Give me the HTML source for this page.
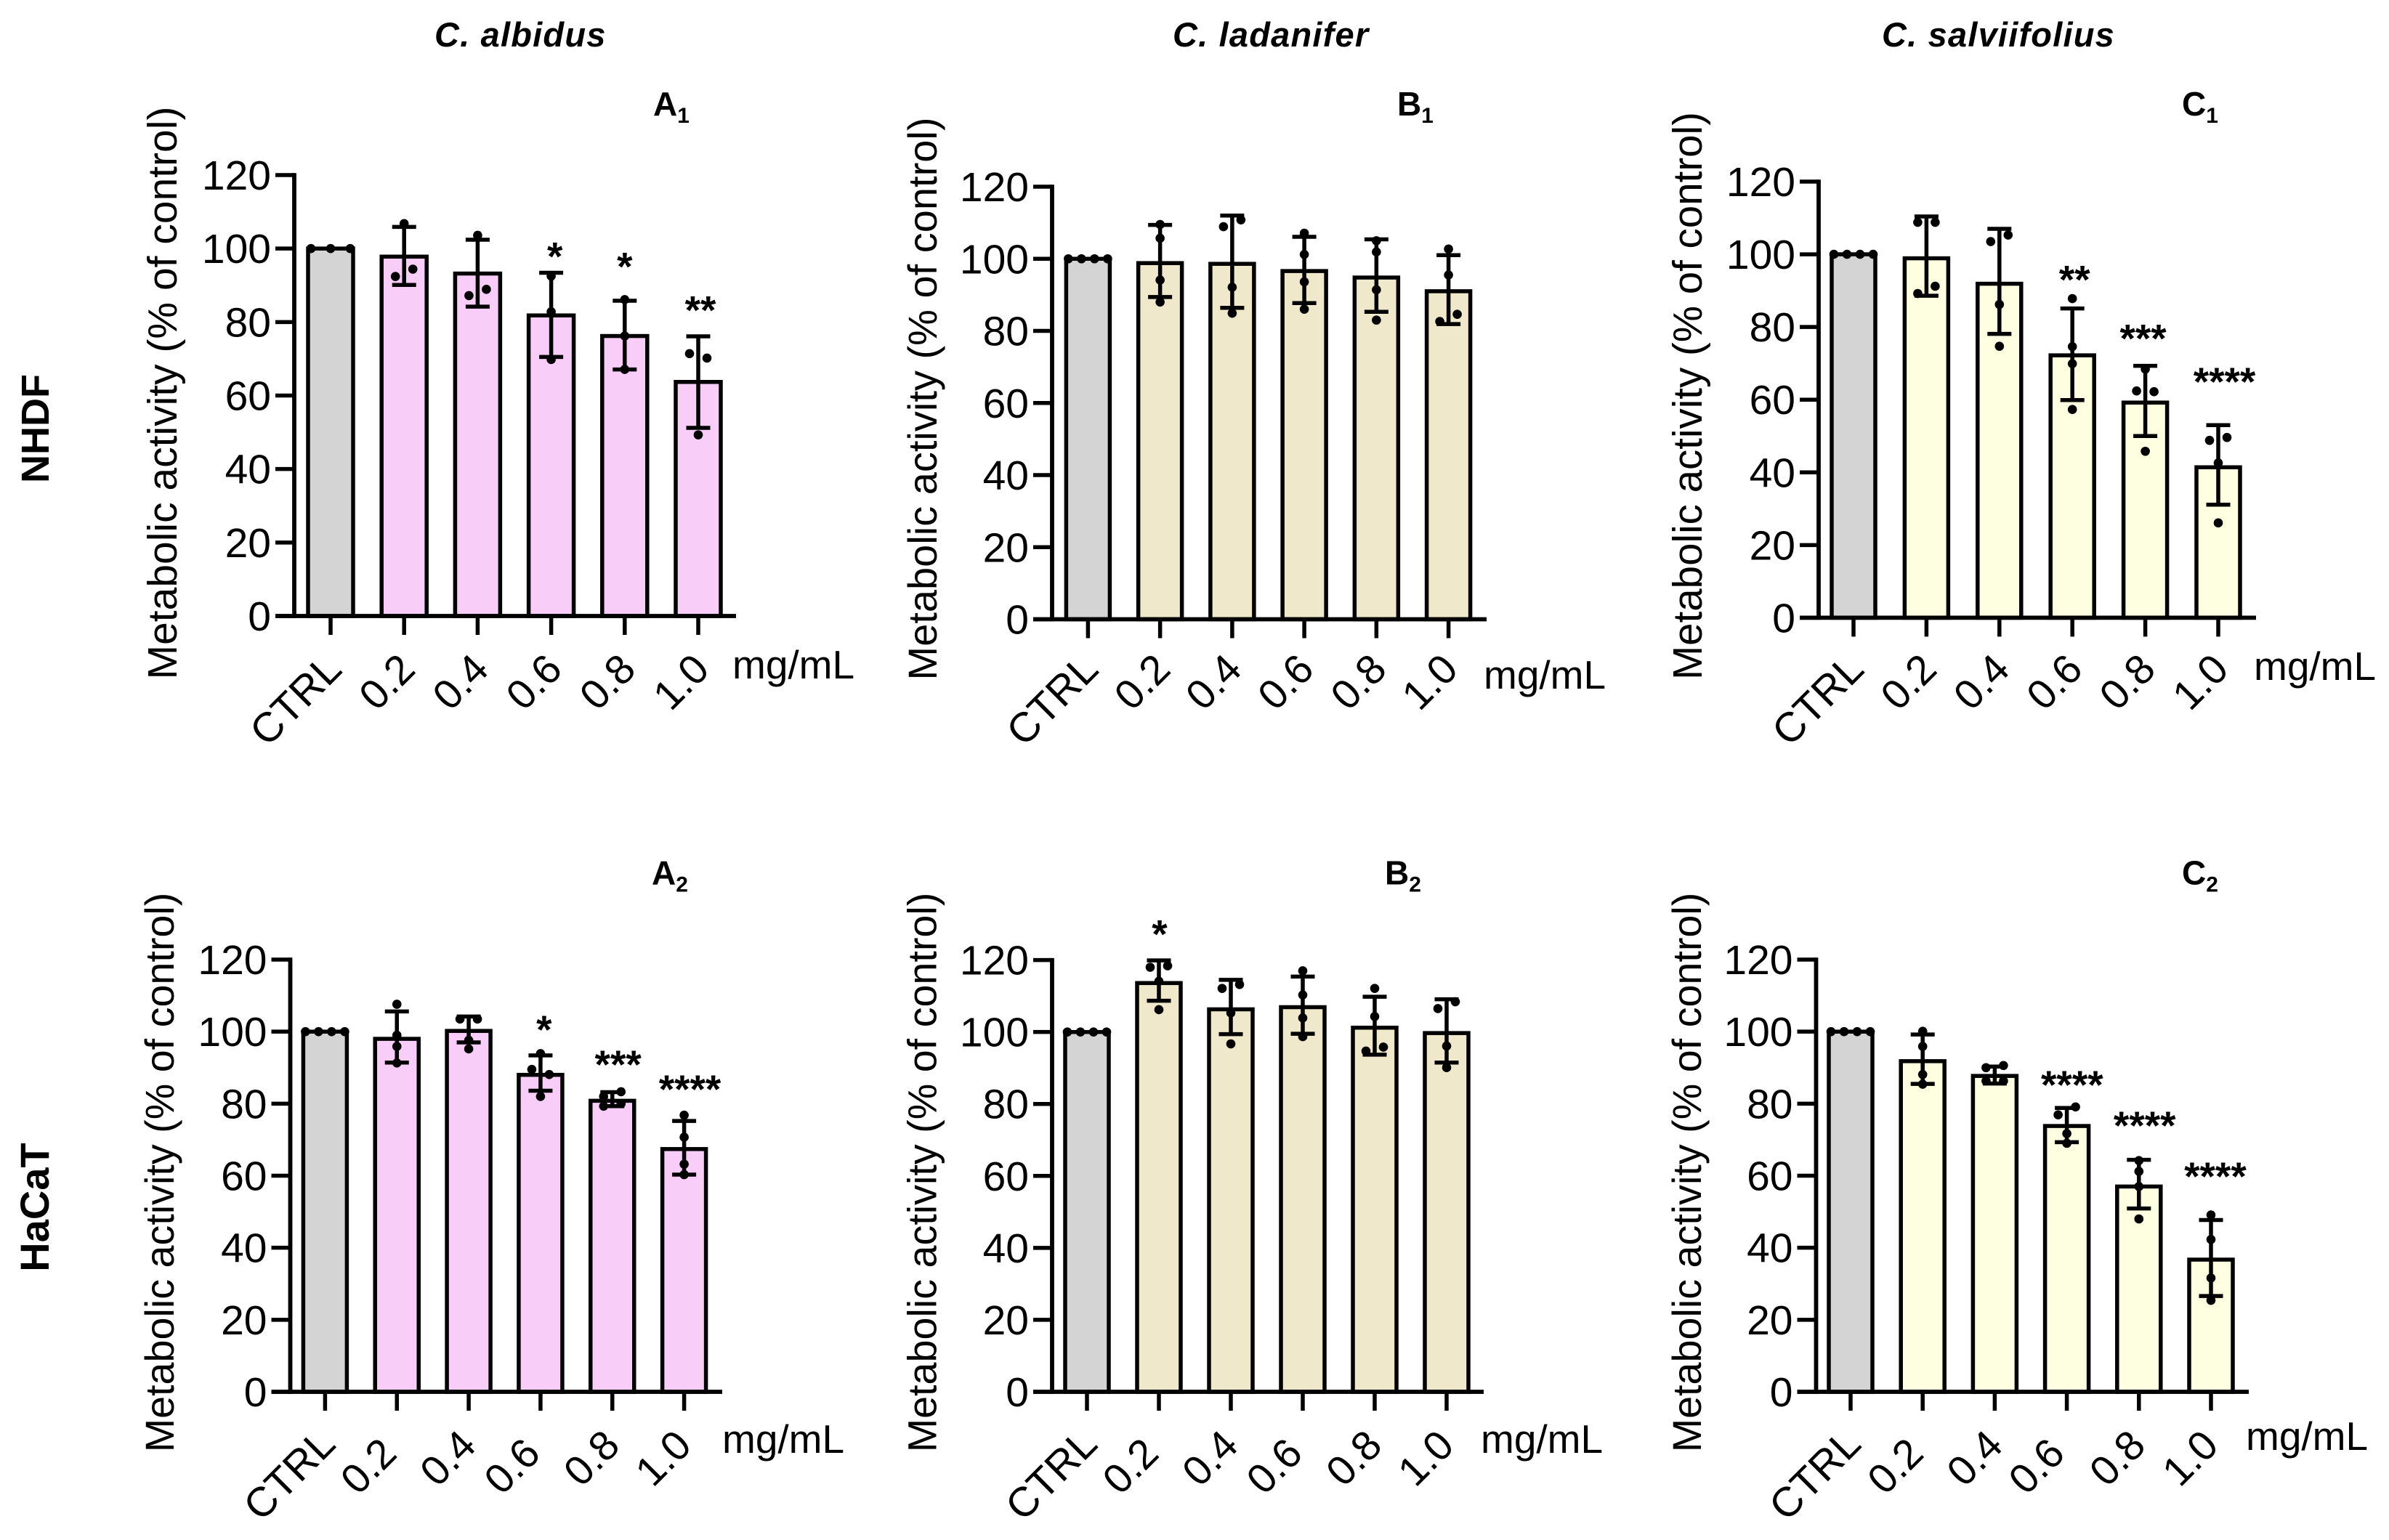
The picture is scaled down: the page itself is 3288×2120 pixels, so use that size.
<!DOCTYPE html>
<html lang="en">
<head>
<meta charset="utf-8">
<title>Metabolic activity of Cistus extracts</title>
<style>
html,body{margin:0;padding:0;background:#fff;}
#figure{display:block;width:3288px;height:2120px;background:#fff;}
text{font-family:"Liberation Sans",Arial,sans-serif;fill:#000;}
</style>
</head>
<body>
<svg id="figure" xmlns="http://www.w3.org/2000/svg" width="3288" height="2120" viewBox="0 0 3288 2120">
  <text x="598" y="64" font-size="47" font-weight="bold" font-style="italic" letter-spacing="1.2">C. albidus</text>
  <text x="1614" y="64" font-size="47" font-weight="bold" font-style="italic" letter-spacing="1.2">C. ladanifer</text>
  <text x="2590" y="64" font-size="47" font-weight="bold" font-style="italic" letter-spacing="1.2">C. salviifolius</text>
  <text transform="translate(67 590) rotate(-90)" text-anchor="middle" font-size="54" font-weight="bold">NHDF</text>
  <text transform="translate(67 1662) rotate(-90)" text-anchor="middle" font-size="56" font-weight="bold">HaCaT</text>
</svg>
<script>
// Shared axis data
const categories = ['CTRL', '0.2', '0.4', '0.6', '0.8', '1.0'];
const yTickValues = [0, 20, 40, 60, 80, 100, 120];
const yAxisMax = 120;
const unitLabel = 'mg/mL';
const yAxisTitle = 'Metabolic activity (% of control)';

// Panel A1
const a1Means = [100, 97.8, 93.2, 81.8, 76.2, 63.7];
const a1Upper = [100, 105.9, 102.4, 93.4, 85.8, 76.1];
const a1Lower = [100, 90.1, 84.2, 70.5, 67.1, 51.2];
const a1Points = [[100, 100, 100], [106.8, 92.4, 94.4], [103.6, 87.2, 88.9], [92.5, 82.8, 69.8], [86.1, 76.2, 67.1], [71.4, 70.2, 49.3]];
const a1Sig = ['', '', '', '*', '*', '**'];
const a1SigLevel = [0, 0, 0, 99.1, 96.4, 84.5];
const a1SigShift = [0, 0, 0, 0.05, 0, 0.03];

// Panel B1
const b1Means = [100, 98.8, 98.6, 96.6, 94.8, 91];
const b1Upper = [100, 109.4, 112, 106.1, 105.4, 101];
const b1Lower = [100, 89.4, 86.4, 87.7, 85.3, 81.9];
const b1Points = [[100, 100, 100, 100], [109.5, 105.7, 94.1, 88], [108.9, 110.8, 92.1, 84.9], [107.1, 101.2, 93.6, 86], [105, 101.9, 91.4, 83], [102.7, 95.5, 82.6, 84.6]];
const b1Sig = ['', '', '', '', '', ''];
const b1SigLevel = [0, 0, 0, 0, 0, 0];
const b1SigShift = [0, 0, 0, 0, 0, 0];

// Panel C1
const c1Means = [100, 98.9, 91.9, 72.2, 59.2, 41.4];
const c1Upper = [100, 110.4, 107, 85.1, 69.3, 53];
const c1Lower = [100, 88.6, 78.1, 59.9, 50, 31.1];
const c1Points = [[100, 100, 100, 100], [108.8, 108.8, 89.2, 91.2], [103.5, 105.3, 86.2, 74.7], [87.8, 74.6, 69.9, 57.3], [68.4, 62.4, 62.2, 45.8], [48.8, 49.6, 42.6, 26.1]];
const c1Sig = ['', '', '', '**', '***', '****'];
const c1SigLevel = [0, 0, 0, 94.3, 78.1, 66.2];
const c1SigShift = [0, 0, 0, 0.03, -0.03, 0.085];

// Panel A2
const a2Means = [100, 98, 100.2, 88, 80.8, 67.4];
const a2Upper = [100, 105.6, 104.2, 93.4, 83.2, 75.2];
const a2Lower = [100, 91.4, 97, 83.6, 79.3, 60.3];
const a2Points = [[100, 100, 100, 100], [107.6, 99, 95.9, 91.3], [103.5, 103.5, 97.6, 95.2], [93.9, 89.5, 88.1, 82], [79.3, 80, 82, 83.3], [76.8, 70.7, 63.2, 60.3]];
const a2Sig = ['', '', '', '*', '***', '****'];
const a2SigLevel = [0, 0, 0, 101.8, 92.2, 85.3];
const a2SigShift = [0, 0, 0, 0.05, 0.08, 0.08];

// Panel B2
const b2Means = [100, 113.6, 106.3, 106.9, 101.2, 99.7];
const b2Upper = [100, 119.9, 114.5, 115.4, 109.8, 109.1];
const b2Lower = [100, 108.7, 99.4, 99.5, 93.7, 91.5];
const b2Points = [[100, 100, 100, 100], [118, 118.4, 114.1, 106.2], [112.1, 113.2, 105.3, 96.7], [117, 110.3, 103.9, 98.7], [112.1, 104.3, 94.7, 95.8], [106.5, 108.4, 96.1, 90.1]];
const b2Sig = ['', '*', '', '', '', ''];
const b2SigLevel = [0, 128.5, 0, 0, 0, 0];
const b2SigShift = [0, 0.01, 0, 0, 0, 0];

// Panel C2
const c2Means = [100, 91.8, 87.7, 73.8, 57, 36.7];
const c2Upper = [100, 99.2, 90.3, 78.8, 64.4, 47.7];
const c2Lower = [100, 85.5, 85.6, 69.3, 50.9, 26.6];
const c2Points = [[100, 100, 100, 100], [100.1, 95.9, 88.1, 85.4], [86.3, 86.3, 90, 90.6], [76.9, 79.1, 71.7, 69], [64.2, 61.2, 57, 48], [49.1, 42.3, 31.6, 25.4]];
const c2Sig = ['', '', '', '****', '****', '****'];
const c2SigLevel = [0, 0, 0, 86.5, 75.2, 61.1];
const c2SigShift = [0, 0, 0, 0.073, 0.08, 0.06];

// Panel layout (separate from the data above)
const panels = [
  {id:'a1', sub:'1', head:'A', fill:'#f8cdf8', means:a1Means, upper:a1Upper, lower:a1Lower, points:a1Points, sig:a1Sig, sigLevel:a1SigLevel, sigShift:a1SigShift,
   axisX:405, yZero:848, yTop:241, cat0:455, catN:961, right:1013, barW:62, titleX:243, titleY:541, titleSize:57, unitX:1008, unitY:934, headX:899, headY:159,
   labDx:[18,18,18,18,18,18], labDy:[76.5,76.5,76.5,76.5,76.5,76.5]},
  {id:'b1', sub:'1', head:'B', fill:'#efe8ca', means:b1Means, upper:b1Upper, lower:b1Lower, points:b1Points, sig:b1Sig, sigLevel:b1SigLevel, sigShift:b1SigShift,
   axisX:1448, yZero:852.5, yTop:257, cat0:1497.4, catN:1993.6, right:2046, barW:60, titleX:1289, titleY:549, titleSize:56, unitX:2042, unitY:948, headX:1923, headY:159,
   labDx:[17,17,16,16,17,16], labDy:[72,72,72,72,72,72]},
  {id:'c1', sub:'1', head:'C', fill:'#fefee0', means:c1Means, upper:c1Upper, lower:c1Lower, points:c1Points, sig:c1Sig, sigLevel:c1SigLevel, sigShift:c1SigShift,
   axisX:2503, yZero:850.4, yTop:250, cat0:2551, catN:3053, right:3105, barW:60, titleX:2342, titleY:545, titleSize:56.5, unitX:3102, unitY:936, headX:3003, headY:159,
   labDx:[17,17,17,17,17,17], labDy:[74,74,74,74,74,74]},
  {id:'a2', sub:'2', head:'A', fill:'#f8cdf8', means:a2Means, upper:a2Upper, lower:a2Lower, points:a2Points, sig:a2Sig, sigLevel:a2SigLevel, sigShift:a2SigShift,
   axisX:399.5, yZero:1916, yTop:1321, cat0:447.4, catN:941.6, right:994, barW:60, titleX:239, titleY:1614, titleSize:55.7, unitX:994, unitY:2000, headX:897, headY:1217.5,
   labDx:[17,2.5,13,2.5,13,13], labDy:[75,88,77,88,77,77]},
  {id:'b2', sub:'2', head:'B', fill:'#efe8ca', means:b2Means, upper:b2Upper, lower:b2Lower, points:b2Points, sig:b2Sig, sigLevel:b2SigLevel, sigShift:b2SigShift,
   axisX:1448, yZero:1916, yTop:1321.6, cat0:1496, catN:1991, right:2042, barW:60, titleX:1288.5, titleY:1614, titleSize:55.7, unitX:2038, unitY:2000, headX:1906, headY:1217.5,
   labDx:[17,2.5,13,2.5,13,13], labDy:[75,88,77,88,77,77]},
  {id:'c2', sub:'2', head:'C', fill:'#fefee0', means:c2Means, upper:c2Upper, lower:c2Lower, points:c2Points, sig:c2Sig, sigLevel:c2SigLevel, sigShift:c2SigShift,
   axisX:2499.5, yZero:1916, yTop:1321, cat0:2547, catN:3043, right:3095, barW:60, titleX:2341, titleY:1614, titleSize:55.7, unitX:3091, unitY:1996, headX:3003, headY:1217.5,
   labDx:[17,4,14,0,12,13], labDy:[75,88,77,88,77,77]}
];

const NS = 'http://www.w3.org/2000/svg';
const root = document.getElementById('figure');
const INK = '#000';
const SW = 5.5;

function mk(tag, parent, attrs, txt) {
  const el = document.createElementNS(NS, tag);
  for (const k in attrs) el.setAttribute(k, attrs[k]);
  if (txt !== undefined) el.textContent = txt;
  parent.appendChild(el);
  return el;
}

// Spread dots that sit at nearly the same height side by side, Prism-style.
function swarm(values) {
  const groups = [];
  values.forEach(function (v) {
    const g = groups[groups.length - 1];
    if (g && Math.abs(v - g[0]) <= 2.3) g.push(v);
    else groups.push([v]);
  });
  const out = [];
  groups.forEach(function (g) {
    const gap = g.length === 2 ? 24 : g.length === 3 ? 27 : 18;
    g.forEach(function (v, i) {
      out.push({ v: v, dx: (i - (g.length - 1) / 2) * gap });
    });
  });
  return out;
}

panels.forEach(function (p) {
  const sx = function (i) { return p.cat0 + i * (p.catN - p.cat0) / (categories.length - 1); };
  const sy = function (v) { return p.yZero - v * (p.yZero - p.yTop) / yAxisMax; };
  const step = (p.catN - p.cat0) / (categories.length - 1);

  const g = mk('g', root, {});
  
  

  // bars
  categories.forEach(function (c, i) {
    const top = sy(p.means[i]);
    const bar = mk('rect', g, {
      x: sx(i) - p.barW / 2, y: top, width: p.barW, height: sy(0) - top,
      fill: i === 0 ? '#d4d4d4' : p.fill, stroke: INK, 'stroke-width': SW
    });
    
    
  });

  // error bars
  categories.forEach(function (c, i) {
    if (i === 0) return;
    const eg = mk('g', g, { stroke: INK, 'stroke-width': SW, fill: 'none' });
    
    
    mk('line', eg, { x1: sx(i), x2: sx(i), y1: sy(p.upper[i]), y2: sy(p.lower[i]) });
    mk('line', eg, { x1: sx(i) - 16.5, x2: sx(i) + 16.5, y1: sy(p.upper[i]), y2: sy(p.upper[i]) });
    mk('line', eg, { x1: sx(i) - 16.5, x2: sx(i) + 16.5, y1: sy(p.lower[i]), y2: sy(p.lower[i]) });
  });

  // replicate points
  categories.forEach(function (c, i) {
    swarm(p.points[i]).forEach(function (pt) {
      const dot = mk('circle', g, { cx: sx(i) + pt.dx, cy: sy(pt.v), r: 6.3, fill: INK });
      
      
    });
  });

  // y axis
  const yAxis = mk('g', g, { stroke: INK, 'stroke-width': SW, fill: 'none' });
  
  
  mk('line', yAxis, { x1: p.axisX, x2: p.axisX, y1: sy(yAxisMax) - SW / 2, y2: sy(0) + SW / 2, 'stroke-width': 5.8 });
  yTickValues.forEach(function (t) {
    mk('line', yAxis, { x1: p.axisX - 26, x2: p.axisX, y1: sy(t), y2: sy(t) });
    const lab = mk('text', g, { x: p.axisX - 32, y: sy(t) + 20, 'text-anchor': 'end', 'font-size': 57 }, String(t));
    
    
  });

  // x axis
  const xAxis = mk('g', g, { stroke: INK, 'stroke-width': SW, fill: 'none' });
  
  
  mk('line', xAxis, { x1: p.axisX - 26, x2: p.right, y1: sy(0), y2: sy(0), 'stroke-width': 5.8 });
  categories.forEach(function (c, i) {
    mk('line', xAxis, { x1: sx(i), x2: sx(i), y1: sy(0), y2: sy(0) + 26 });
    const ax = sx(i) + p.labDx[i];
    const ay = sy(0) + p.labDy[i];
    const lab = mk('text', g, { transform: 'translate(' + ax + ' ' + ay + ') rotate(-45)', 'text-anchor': 'end', 'font-size': 57 }, c);
    
    
  });

  // significance stars
  categories.forEach(function (c, i) {
    if (!p.sig[i]) return;
    const star = mk('text', g, { x: sx(i) + p.sigShift[i] * step, y: sy(p.sigLevel[i]) + 25, 'text-anchor': 'middle', 'font-size': 55, 'font-weight': 'bold' }, p.sig[i]);
    
    
  });

  // y axis title
  const yt = mk('text', g, { transform: 'translate(' + p.titleX + ' ' + p.titleY + ') rotate(-90)', 'text-anchor': 'middle', 'font-size': p.titleSize }, yAxisTitle);
  
  

  // unit label
  const unit = mk('text', g, { x: p.unitX, y: p.unitY, 'font-size': 55 }, unitLabel);
  
  

  // panel letter
  const head = mk('text', g, { x: p.headX, y: p.headY, 'font-size': 46, 'font-weight': 'bold' }, p.head);
  
  
  const sub = mk('tspan', head, { dy: 10, 'font-size': 30, 'font-weight': 'bold' }, p.sub);
  
  
});
</script>
</body>
</html>
